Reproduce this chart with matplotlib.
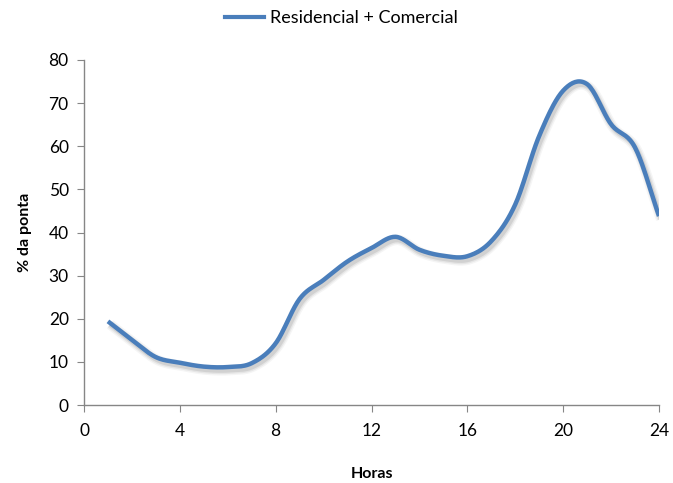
import numpy as np
import matplotlib
matplotlib.use("Agg")
import matplotlib.pyplot as plt
import matplotlib.patheffects as pe
from matplotlib.lines import Line2D

plt.rcParams['font.family'] = ['Lato', 'DejaVu Sans']

# Hourly load profile, % of peak
horas = [1, 2, 3, 4, 5, 6, 7, 8, 9, 10, 11, 12,
         13, 14, 15, 16, 17, 18, 19, 20, 21, 22, 23, 24]
ponta = [19.4, 15.1, 11.1, 9.8, 8.9, 8.8, 9.7, 14.3, 24.6, 29.0, 33.3, 36.4,
         39.0, 36.0, 34.6, 34.5, 38.0, 46.5, 62.4, 72.9, 74.4, 65.1, 59.7, 43.8]
serie_label = "Residencial + Comercial"
xticks = [0, 4, 8, 12, 16, 20, 24]
yticks = [0, 10, 20, 30, 40, 50, 60, 70, 80]

line_color = "#4a7ebb"
axis_color = "#868686"


def smooth_line(x, y, n=20):
    """Catmull-Rom spline through the points, like a smoothed spreadsheet line."""
    x = np.asarray(x, float)
    y = np.asarray(y, float)
    px = np.concatenate([[2 * x[0] - x[1]], x, [2 * x[-1] - x[-2]]])
    py = np.concatenate([[2 * y[0] - y[1]], y, [2 * y[-1] - y[-2]]])
    xs, ys = [], []
    t = np.linspace(0, 1, n, endpoint=False)
    for i in range(1, len(px) - 2):
        for p, out in ((px, xs), (py, ys)):
            p0, p1, p2, p3 = p[i - 1], p[i], p[i + 1], p[i + 2]
            out.extend(0.5 * ((2 * p1) + (-p0 + p2) * t
                              + (2 * p0 - 5 * p1 + 4 * p2 - p3) * t ** 2
                              + (-p0 + 3 * p1 - 3 * p2 + p3) * t ** 3))
    xs.append(x[-1])
    ys.append(y[-1])
    return np.array(xs), np.array(ys)


fig = plt.figure(figsize=(6.73, 4.83), dpi=100)
ax = fig.add_axes([84 / 673, 1 - 405 / 483, 575 / 673, 345 / 483])

sx, sy = smooth_line(horas, ponta)
# soft drop shadow: a few widening, fading strokes under the line
shadow = [pe.SimpleLineShadow(offset=(1.5, -2.2), shadow_color='#808080',
                              alpha=a, linewidth=w)
          for a, w in ((0.08, 7.5), (0.12, 5.5), (0.2, 3.5))]
ax.plot(sx, sy, color=line_color, lw=3.2, solid_capstyle='butt',
        path_effects=shadow + [pe.Normal()])

ax.set_xlim(0, 24)
ax.set_ylim(0, 80)
ax.set_xticks(xticks)
ax.set_yticks(yticks)
ax.tick_params(axis='both', direction='out', length=5, color=axis_color,
               labelsize=12.5, labelcolor='black')
ax.tick_params(axis='x', pad=8)
ax.tick_params(axis='y', pad=6)
for side in ('top', 'right'):
    ax.spines[side].set_visible(False)
for side in ('left', 'bottom'):
    ax.spines[side].set_color(axis_color)
    ax.spines[side].set_linewidth(1.0)

ax.set_xlabel("Horas", fontsize=11.5, fontweight='bold', labelpad=20)
ax.set_ylabel("% da ponta", fontsize=11.5, fontweight='bold', labelpad=12)

handle = Line2D([], [], color=line_color, lw=3.0)
fig.legend(handles=[handle], labels=[serie_label], loc='center',
           bbox_to_anchor=(0.507, 1 - 18 / 483), frameon=False, fontsize=13,
           handlelength=2.2, handletextpad=0.3)

fig.savefig("out.png", dpi=100)
